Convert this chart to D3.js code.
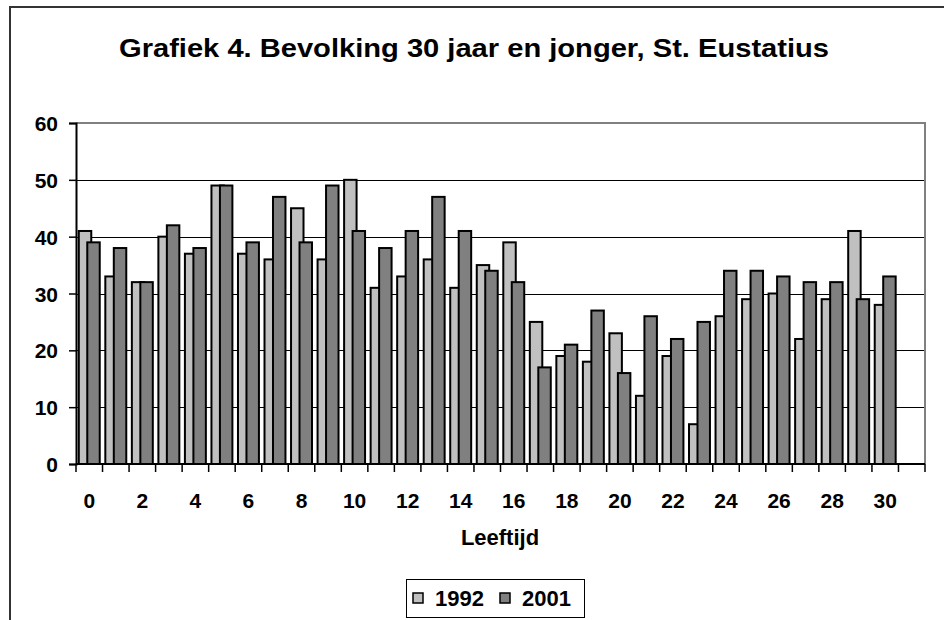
<!DOCTYPE html>
<html>
<head>
<meta charset="utf-8">
<script src="https://cdn.jsdelivr.net/npm/d3@7"></script>
<style>
  body { margin: 0; background: #fff; }
  text { font-family: "Liberation Sans", Arial, sans-serif; font-weight: bold; fill: #000; }
</style>
</head>
<body>
<svg id="chart" width="944" height="620"></svg>
<script>
// leeftijd 0..31 (31 is an empty slot, as in the original)
var ages = d3.range(0, 32);
var yTicks = [0, 10, 20, 30, 40, 50, 60];
var series = ["1992", "2001"];
var v1992 = [41, 33, 32, 40, 37, 49, 37, 36, 45, 36, 50, 31, 33, 36, 31, 35, 39, 25, 19, 18, 23, 12, 19, 7, 26, 29, 30, 22, 29, 41, 28, null];
var v2001 = [39, 38, 32, 42, 38, 49, 39, 47, 39, 49, 41, 38, 41, 47, 41, 34, 32, 17, 21, 27, 16, 26, 22, 25, 34, 34, 33, 32, 32, 29, 33, null];
var colors = ["#c0c0c0", "#808080"];

var svg = d3.select("#chart"),
    width = +svg.attr("width"),
    height = +svg.attr("height");

var pLeft = 76, pRight = 925, pTop = 123, pBottom = 464;

var x = d3.scaleBand().domain(ages).range([pLeft, pRight]).padding(0);
var y = d3.scaleLinear().domain([0, 60]).range([pBottom, pTop]);

// outer frame (runs off the picture to the right and bottom)
svg.append("rect")
    .attr("x", 10).attr("y", 7)
    .attr("width", 1000).attr("height", 700)
    .attr("fill", "none")
    .attr("stroke", "#333")
    .attr("stroke-width", 2);

svg.append("text")
    .attr("x", 474).attr("y", 57)
    .attr("text-anchor", "middle")
    .attr("font-size", "25px")
    .attr("textLength", 710)
    .attr("lengthAdjust", "spacingAndGlyphs")
    .text("Grafiek 4. Bevolking 30 jaar en jonger, St. Eustatius");

// gridlines
svg.append("g")
    .selectAll("line")
    .data(yTicks.filter(function (d) { return d > 0 && d < 60; }))
    .enter().append("line")
    .attr("x1", pLeft).attr("x2", pRight)
    .attr("y1", function (d) { return Math.round(y(d)) + 0.5; })
    .attr("y2", function (d) { return Math.round(y(d)) + 0.5; })
    .attr("stroke", "#000")
    .attr("stroke-width", 1);

// plot area border (top, right)
svg.append("path")
    .attr("d", "M" + pLeft + "," + pTop + "H" + pRight + "V" + pBottom)
    .attr("fill", "none")
    .attr("stroke", "#808080")
    .attr("stroke-width", 2);

// bars
var bw = x.bandwidth() * 0.47;
var offset = bw * 0.68;
var groupW = bw + offset;

series.forEach(function (s, i) {
    var vals = i === 0 ? v1992 : v2001;
    svg.append("g")
        .selectAll("rect")
        .data(ages.filter(function (a) { return vals[a] != null; }))
        .enter().append("rect")
        .attr("x", function (a) { return x(a) + (x.bandwidth() - groupW) / 2 + i * offset; })
        .attr("y", function (a) { return y(vals[a]); })
        .attr("width", bw)
        .attr("height", function (a) { return y(0) - y(vals[a]); })
        .attr("fill", colors[i])
        .attr("stroke", "#000")
        .attr("stroke-width", 2);
});

// y axis
var yAxis = svg.append("g")
    .attr("transform", "translate(" + pLeft + ",0)")
    .call(d3.axisLeft(y).tickValues(yTicks).tickSize(7).tickPadding(11));
yAxis.select(".domain").attr("stroke", "#000").attr("stroke-width", 2);
yAxis.selectAll(".tick line").attr("stroke", "#000").attr("stroke-width", 1.5);
yAxis.selectAll("text")
    .attr("font-size", "21px")
    .attr("font-family", null)
    .attr("dy", "0.36em");

// x axis: ticks on category boundaries, labels on even ages
var xg = svg.append("g");
xg.append("line")
    .attr("x1", pLeft).attr("x2", pRight)
    .attr("y1", pBottom).attr("y2", pBottom)
    .attr("stroke", "#000").attr("stroke-width", 2);
xg.selectAll(".xt")
    .data(ages.concat([32]))
    .enter().append("line")
    .attr("class", "xt")
    .attr("x1", function (a) { return a < 32 ? x(a) : pRight; })
    .attr("x2", function (a) { return a < 32 ? x(a) : pRight; })
    .attr("y1", pBottom).attr("y2", pBottom + 8)
    .attr("stroke", "#000").attr("stroke-width", 1.5);
xg.selectAll(".xl")
    .data(ages.filter(function (a) { return a % 2 === 0; }))
    .enter().append("text")
    .attr("class", "xl")
    .attr("x", function (a) { return x(a) + x.bandwidth() / 2; })
    .attr("y", 508)
    .attr("text-anchor", "middle")
    .attr("font-size", "21px")
    .text(function (a) { return a; });

svg.append("text")
    .attr("x", 500).attr("y", 545)
    .attr("text-anchor", "middle")
    .attr("font-size", "22px")
    .text("Leeftijd");

// legend
var lg = svg.append("g");
lg.append("rect")
    .attr("x", 406.5).attr("y", 579.5)
    .attr("width", 178).attr("height", 38)
    .attr("fill", "#fff").attr("stroke", "#000").attr("stroke-width", 1);
var items = lg.selectAll(".item")
    .data(series)
    .enter().append("g")
    .attr("class", "item")
    .attr("transform", function (d, i) { return "translate(" + (413 + i * 87) + ",593)"; });
items.append("rect")
    .attr("width", 10).attr("height", 10)
    .attr("fill", function (d, i) { return colors[i]; })
    .attr("stroke", "#000").attr("stroke-width", 1.5);
items.append("text")
    .attr("x", 22).attr("y", 13)
    .attr("font-size", "22px")
    .text(function (d) { return d; });
</script>
</body>
</html>
